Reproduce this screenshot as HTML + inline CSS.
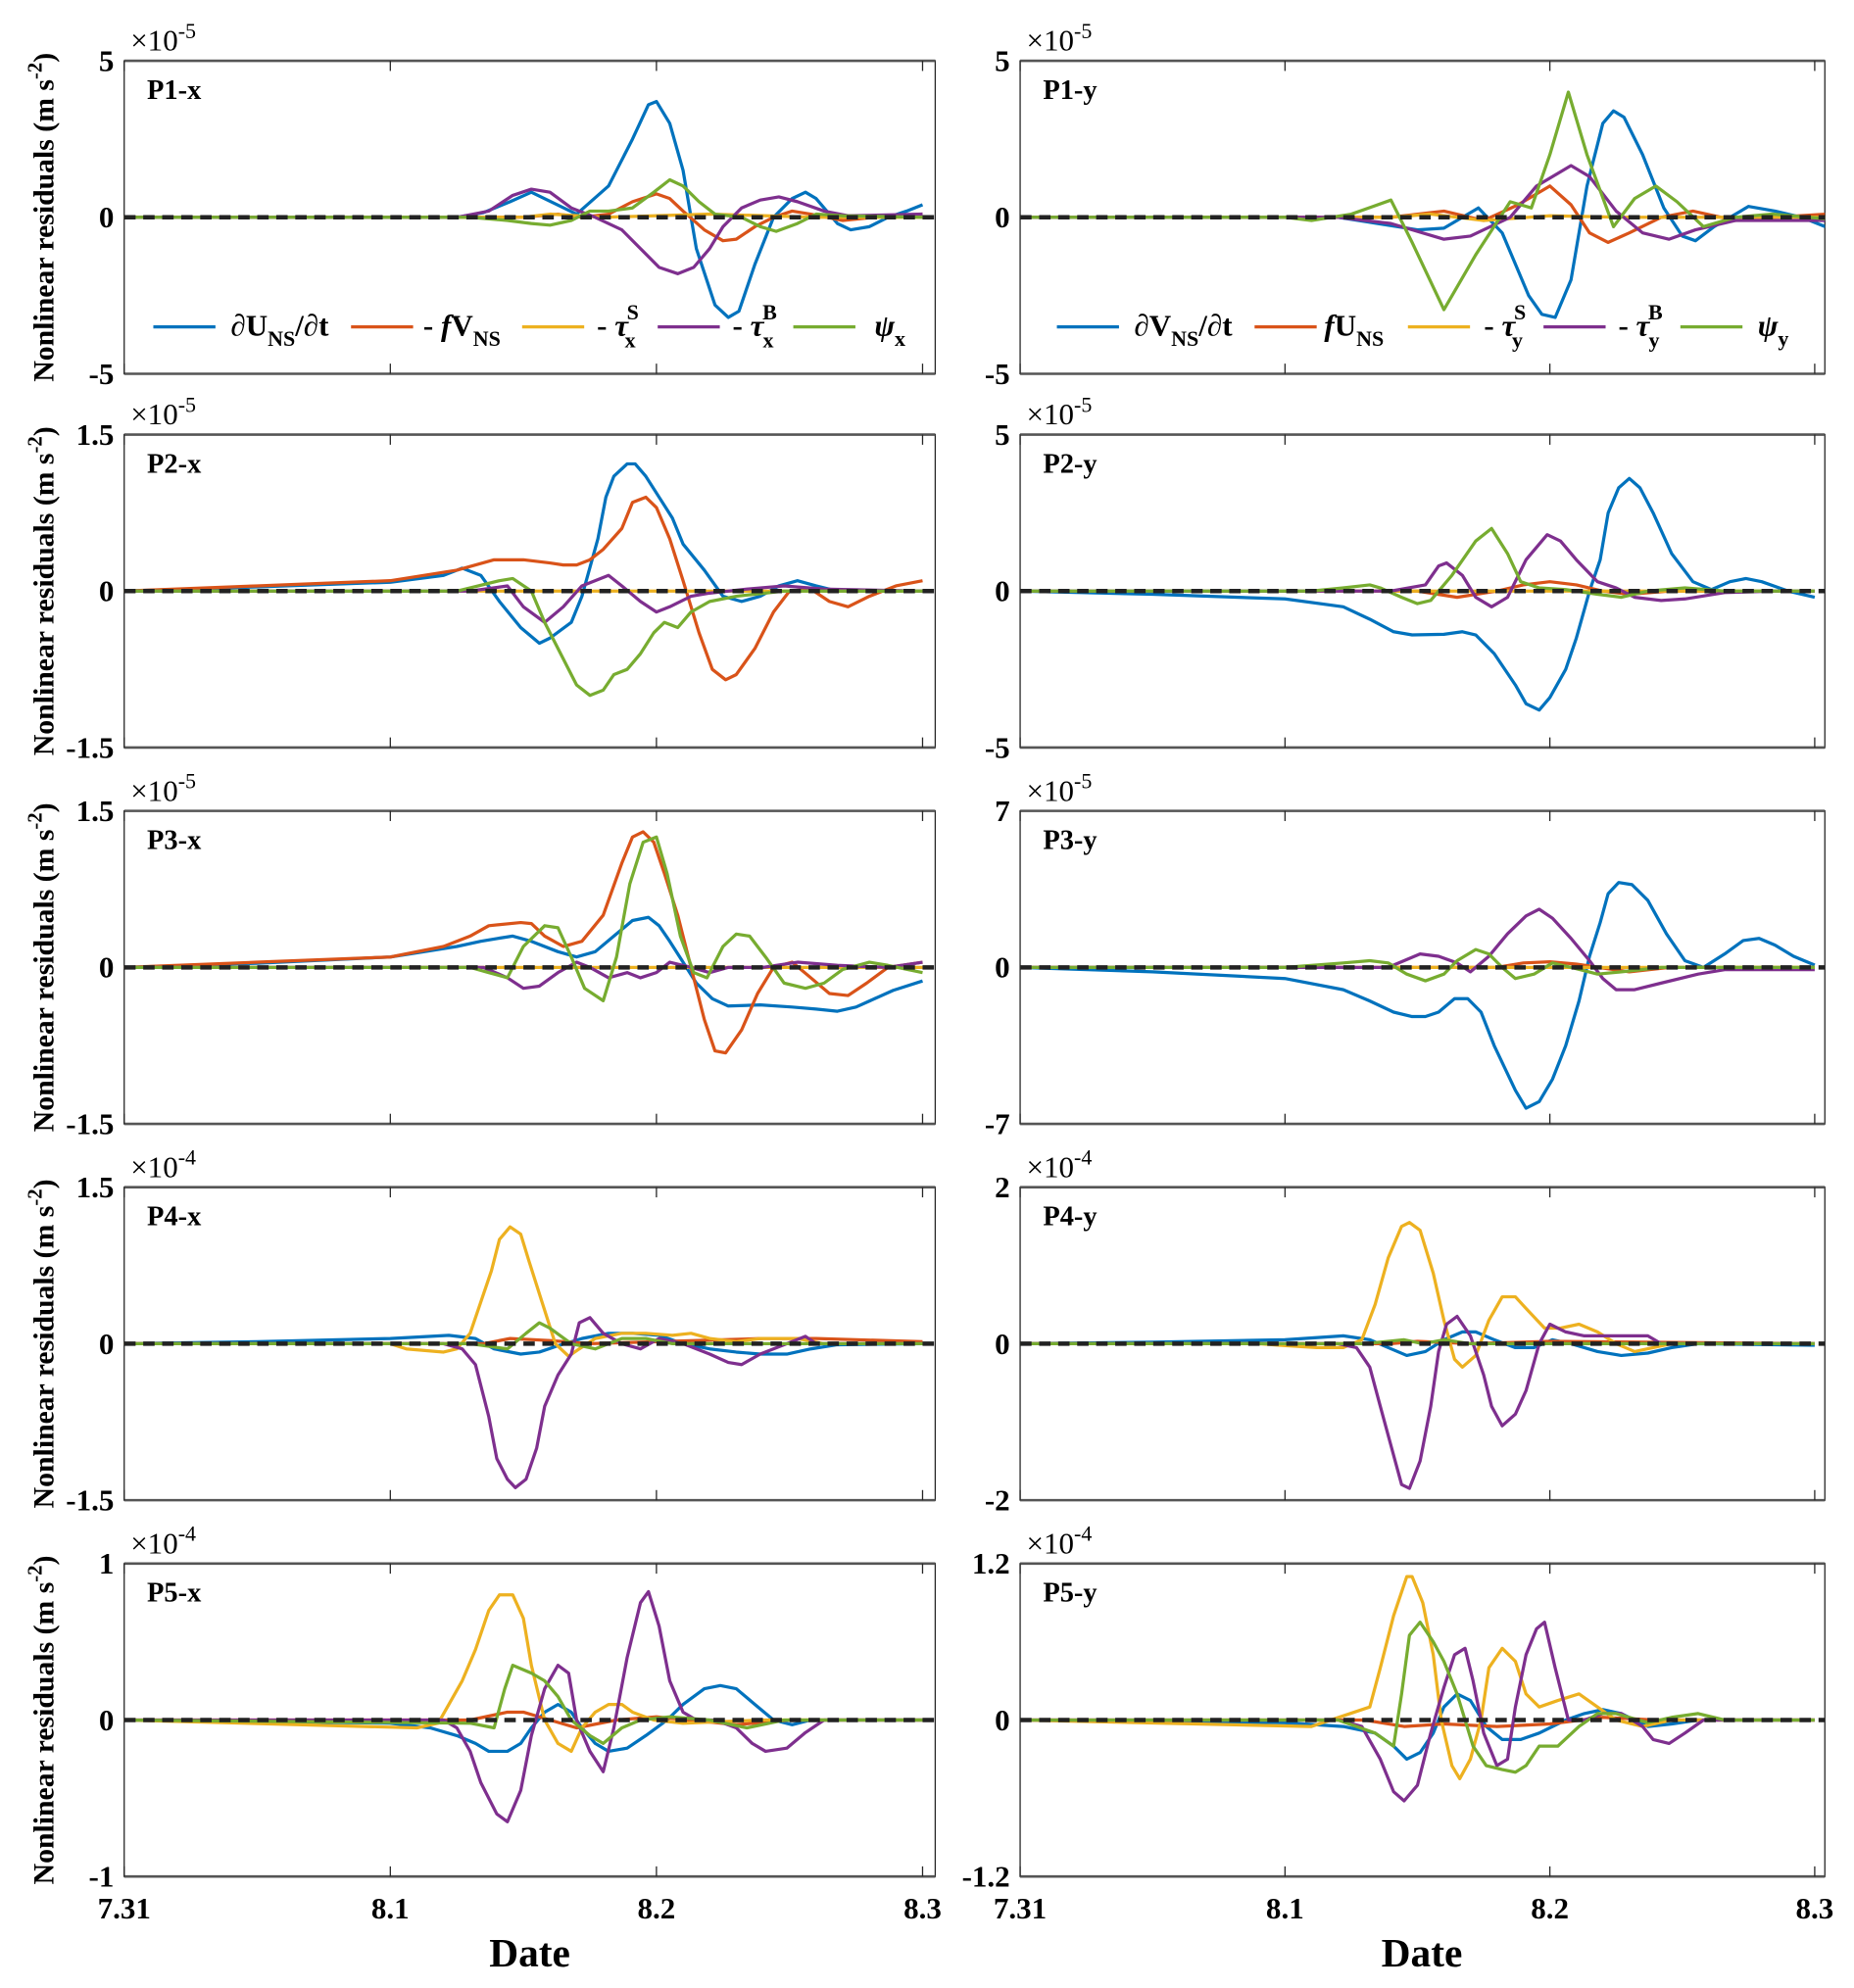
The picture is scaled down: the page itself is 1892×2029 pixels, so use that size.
<!DOCTYPE html>
<html><head><meta charset="utf-8">
<style>
html,body{margin:0;padding:0;background:#fff;}
svg{display:block;font-family:"Liberation Serif",serif;font-weight:bold;}
</style></head>
<body>
<svg id="chart" width="1892" height="2029" viewBox="0 0 1463 1569" preserveAspectRatio="none" xmlns="http://www.w3.org/2000/svg"></svg>
<script>
const xTickLabels = ["7.31","8.1","8.2","8.3"];
const seriesNames = ["blue","orange","yellow","purple","green"];
const seriesColors = ["#0072BD","#D95319","#EDB120","#7E2F8E","#77AC30"];

// P1-x  (x1e-5)
const p1xBlue=[[0,0],[1.25,0],[1.35,0.15],[1.45,0.5],[1.53,0.8],[1.7,0.1],[1.82,1.0],[1.91,2.5],[1.97,3.6],[2.0,3.7],[2.05,3.0],[2.1,1.5],[2.15,-1.0],[2.22,-2.8],[2.27,-3.2],[2.31,-3.0],[2.37,-1.5],[2.44,0],[2.51,0.6],[2.56,0.8],[2.6,0.6],[2.68,-0.2],[2.73,-0.4],[2.8,-0.3],[2.87,0],[2.94,0.2],[3.0,0.4]];
const p1xOrange=[[0,0],[1.5,0],[1.63,0.1],[1.72,0],[1.82,0.1],[1.91,0.5],[2.0,0.75],[2.05,0.6],[2.1,0.2],[2.18,-0.4],[2.25,-0.75],[2.3,-0.7],[2.37,-0.3],[2.44,0],[2.51,0.2],[2.58,0.1],[2.7,-0.1],[2.82,0],[3.0,0.1]];
const p1xYellow=[[0,0],[1.5,0],[1.6,0.1],[1.8,0],[2.2,0.1],[2.6,0],[3.0,0]];
const p1xPurple=[[0,0],[1.25,0],[1.37,0.2],[1.46,0.7],[1.53,0.9],[1.6,0.8],[1.68,0.3],[1.77,0],[1.87,-0.4],[1.94,-1.0],[2.01,-1.6],[2.08,-1.8],[2.14,-1.6],[2.2,-1.0],[2.25,-0.3],[2.32,0.3],[2.39,0.55],[2.46,0.65],[2.53,0.5],[2.63,0.2],[2.72,0.05],[3.0,0.1]];
const p1xGreen=[[0,0],[1.3,0],[1.44,-0.1],[1.53,-0.2],[1.6,-0.25],[1.68,-0.1],[1.75,0.2],[1.82,0.2],[1.91,0.3],[1.99,0.8],[2.05,1.2],[2.1,1.0],[2.16,0.5],[2.22,0.1],[2.32,0],[2.39,-0.3],[2.45,-0.45],[2.53,-0.2],[2.6,0.1],[2.7,0.05],[3.0,0]];
// P1-y
const p1yBlue=[[0,0],[1.2,0],[1.35,-0.2],[1.5,-0.4],[1.6,-0.35],[1.73,0.3],[1.82,-0.5],[1.92,-2.5],[1.97,-3.1],[2.02,-3.2],[2.08,-2.0],[2.14,1.0],[2.2,3.0],[2.24,3.4],[2.28,3.2],[2.35,2.0],[2.43,0.3],[2.5,-0.6],[2.55,-0.75],[2.62,-0.3],[2.75,0.35],[2.85,0.2],[2.95,0],[3.04,-0.3]];
const p1yOrange=[[0,0],[1.4,0],[1.6,0.2],[1.75,-0.1],[1.88,0.4],[2.0,1.0],[2.08,0.4],[2.15,-0.5],[2.22,-0.8],[2.3,-0.5],[2.42,0],[2.54,0.2],[2.7,-0.1],[2.85,0],[3.04,0.1]];
const p1yYellow=[[0,0],[1.4,0],[1.55,0.1],[1.75,-0.1],[2.0,0.05],[2.3,0],[3.04,0]];
const p1yPurple=[[0,0],[1.2,0],[1.4,-0.2],[1.6,-0.7],[1.7,-0.6],[1.85,0],[1.95,1.0],[2.08,1.65],[2.15,1.3],[2.25,0.2],[2.35,-0.5],[2.45,-0.7],[2.55,-0.4],[2.7,-0.1],[3.04,-0.1]];
const p1yGreen=[[0,0],[1.0,0],[1.1,-0.1],[1.25,0.1],[1.4,0.55],[1.48,-0.8],[1.6,-2.95],[1.72,-1.2],[1.85,0.5],[1.93,0.3],[2.0,2.0],[2.07,4.0],[2.14,2.0],[2.24,-0.3],[2.32,0.6],[2.4,1.0],[2.48,0.5],[2.58,-0.3],[2.7,0],[2.84,0.1],[3.04,-0.05]];
// P2-x
const p2xBlue=[[0,0],[0.5,0.04],[1.0,0.085],[1.2,0.15],[1.27,0.22],[1.34,0.15],[1.41,-0.1],[1.49,-0.35],[1.56,-0.5],[1.6,-0.45],[1.68,-0.3],[1.72,-0.05],[1.78,0.5],[1.81,0.9],[1.84,1.1],[1.89,1.22],[1.92,1.22],[1.96,1.1],[2.01,0.9],[2.06,0.7],[2.1,0.45],[2.18,0.2],[2.25,-0.05],[2.32,-0.1],[2.39,-0.05],[2.46,0.05],[2.53,0.1],[2.6,0.05],[2.68,0],[3.0,0]];
const p2xOrange=[[0,0],[0.5,0.05],[1.0,0.1],[1.25,0.2],[1.39,0.3],[1.5,0.3],[1.6,0.27],[1.65,0.25],[1.7,0.25],[1.75,0.3],[1.8,0.4],[1.87,0.6],[1.91,0.85],[1.96,0.9],[2.0,0.8],[2.05,0.5],[2.1,0.1],[2.16,-0.4],[2.21,-0.75],[2.26,-0.85],[2.3,-0.8],[2.37,-0.55],[2.44,-0.2],[2.5,0],[2.58,0.02],[2.65,-0.1],[2.72,-0.15],[2.8,-0.05],[2.9,0.05],[3.0,0.1]];
const p2xYellow=[[0,0],[3.0,0]];
const p2xPurple=[[0,0],[1.3,0],[1.44,0.05],[1.5,-0.15],[1.58,-0.3],[1.65,-0.15],[1.72,0.05],[1.77,0.1],[1.82,0.15],[1.87,0.05],[1.94,-0.1],[2.0,-0.2],[2.05,-0.15],[2.13,-0.05],[2.2,-0.02],[2.34,0.02],[2.48,0.05],[2.63,0.02],[3.0,0]];
const p2xGreen=[[0,0],[1.25,0],[1.41,0.1],[1.46,0.12],[1.53,0],[1.58,-0.3],[1.65,-0.65],[1.7,-0.9],[1.75,-1.0],[1.8,-0.95],[1.84,-0.8],[1.89,-0.75],[1.94,-0.6],[1.99,-0.4],[2.03,-0.3],[2.08,-0.35],[2.13,-0.2],[2.2,-0.1],[2.3,-0.05],[2.48,0],[3.0,0]];
// P2-y
const p2yBlue=[[0,0],[0.5,-0.1],[1.0,-0.25],[1.22,-0.5],[1.32,-0.9],[1.41,-1.3],[1.48,-1.4],[1.6,-1.38],[1.67,-1.3],[1.72,-1.4],[1.79,-2.0],[1.87,-3.0],[1.91,-3.6],[1.96,-3.8],[2.0,-3.4],[2.06,-2.5],[2.1,-1.5],[2.15,0],[2.19,1.0],[2.22,2.5],[2.26,3.3],[2.3,3.6],[2.34,3.3],[2.39,2.5],[2.46,1.2],[2.54,0.3],[2.61,0.05],[2.68,0.3],[2.74,0.4],[2.8,0.3],[2.9,0],[3.0,-0.2]];
const p2yOrange=[[0,0],[1.5,0],[1.65,-0.2],[1.8,0],[1.9,0.2],[2.0,0.3],[2.1,0.2],[2.2,0],[2.3,-0.1],[2.45,0],[3.0,0]];
const p2yYellow=[[0,0],[3.0,0]];
const p2yPurple=[[0,0],[1.4,0],[1.53,0.2],[1.58,0.8],[1.61,0.9],[1.67,0.5],[1.72,-0.2],[1.78,-0.5],[1.84,-0.2],[1.91,1.0],[1.99,1.8],[2.04,1.6],[2.1,1.0],[2.18,0.3],[2.25,0.1],[2.32,-0.2],[2.42,-0.3],[2.51,-0.25],[2.66,-0.05],[2.85,0],[3.0,0]];
const p2yGreen=[[0,0],[1.1,0],[1.22,0.1],[1.32,0.2],[1.36,0.1],[1.44,-0.2],[1.5,-0.4],[1.55,-0.3],[1.63,0.5],[1.72,1.6],[1.78,2.0],[1.84,1.2],[1.89,0.3],[1.96,0.1],[2.06,0.05],[2.18,-0.1],[2.27,-0.2],[2.37,0],[2.51,0.1],[2.66,0],[3.0,0]];
// P3-x
const p3xBlue=[[0,0],[0.5,0.04],[1.0,0.1],[1.25,0.2],[1.34,0.25],[1.41,0.28],[1.46,0.3],[1.53,0.25],[1.63,0.15],[1.7,0.1],[1.77,0.15],[1.84,0.3],[1.91,0.45],[1.97,0.48],[2.01,0.4],[2.05,0.25],[2.1,0.05],[2.15,-0.15],[2.21,-0.3],[2.27,-0.37],[2.39,-0.36],[2.51,-0.38],[2.6,-0.4],[2.68,-0.42],[2.75,-0.38],[2.82,-0.3],[2.89,-0.22],[3.0,-0.13]];
const p3xOrange=[[0,0],[0.5,0.05],[1.0,0.1],[1.2,0.2],[1.3,0.3],[1.37,0.4],[1.49,0.43],[1.53,0.42],[1.58,0.3],[1.65,0.2],[1.72,0.25],[1.8,0.5],[1.87,1.0],[1.91,1.25],[1.95,1.3],[1.99,1.2],[2.03,0.9],[2.08,0.5],[2.13,0],[2.18,-0.5],[2.22,-0.8],[2.26,-0.82],[2.32,-0.6],[2.38,-0.25],[2.44,0],[2.51,0.05],[2.58,-0.1],[2.65,-0.25],[2.72,-0.27],[2.79,-0.15],[2.87,0],[3.0,0.05]];
const p3xYellow=[[0,0],[3.0,0]];
const p3xPurple=[[0,0],[1.35,0],[1.44,-0.1],[1.5,-0.2],[1.56,-0.18],[1.63,-0.05],[1.7,0.05],[1.75,0],[1.82,-0.1],[1.89,-0.05],[1.94,-0.1],[2.0,-0.05],[2.05,0.05],[2.13,0],[2.2,-0.05],[2.27,0],[2.4,0],[2.53,0.05],[2.68,0.02],[2.87,0],[3.0,0.05]];
const p3xGreen=[[0,0],[1.3,0],[1.37,-0.05],[1.44,-0.1],[1.5,0.2],[1.58,0.4],[1.63,0.38],[1.68,0.1],[1.73,-0.2],[1.8,-0.32],[1.85,0.1],[1.9,0.8],[1.95,1.2],[2.0,1.25],[2.04,0.9],[2.09,0.3],[2.14,-0.05],[2.19,-0.1],[2.25,0.2],[2.3,0.32],[2.35,0.3],[2.41,0.1],[2.48,-0.15],[2.56,-0.2],[2.63,-0.15],[2.7,-0.02],[2.8,0.05],[2.87,0.02],[3.0,-0.05]];
// P3-y
const p3yBlue=[[0,0],[0.5,-0.2],[1.0,-0.5],[1.22,-1.0],[1.32,-1.5],[1.41,-2.0],[1.48,-2.2],[1.53,-2.2],[1.58,-2.0],[1.64,-1.4],[1.69,-1.4],[1.74,-2.0],[1.79,-3.5],[1.87,-5.5],[1.91,-6.3],[1.96,-6.0],[2.01,-5.0],[2.06,-3.5],[2.11,-1.5],[2.15,0.5],[2.19,2.0],[2.22,3.3],[2.26,3.8],[2.31,3.7],[2.37,3.0],[2.44,1.5],[2.51,0.3],[2.58,0],[2.66,0.6],[2.73,1.2],[2.79,1.3],[2.85,1.0],[2.92,0.5],[3.0,0.1]];
const p3yOrange=[[0,0],[1.8,0],[1.9,0.2],[2.0,0.25],[2.1,0.15],[2.3,-0.2],[2.45,0],[3.0,0]];
const p3yYellow=[[0,0],[3.0,0]];
const p3yPurple=[[0,0],[1.4,0],[1.41,0.1],[1.51,0.6],[1.58,0.5],[1.65,0.2],[1.7,-0.2],[1.77,0.5],[1.84,1.5],[1.91,2.3],[1.96,2.6],[2.01,2.2],[2.08,1.3],[2.15,0.3],[2.2,-0.5],[2.25,-1.0],[2.32,-1.0],[2.42,-0.7],[2.56,-0.3],[2.66,-0.1],[3.0,-0.1]];
const p3yGreen=[[0,0],[1.0,0],[1.22,0.2],[1.32,0.3],[1.39,0.2],[1.46,-0.3],[1.53,-0.6],[1.6,-0.3],[1.65,0.3],[1.72,0.8],[1.77,0.6],[1.82,0],[1.87,-0.5],[1.94,-0.3],[2.01,0.2],[2.08,0],[2.18,-0.3],[2.27,-0.2],[2.42,0],[3.0,0]];
// P4-x (x1e-4)
const p4xBlue=[[0,0],[0.5,0.02],[1.0,0.05],[1.22,0.08],[1.32,0.05],[1.39,-0.05],[1.49,-0.1],[1.56,-0.08],[1.63,-0.02],[1.72,0.05],[1.82,0.1],[1.91,0.1],[2.01,0.08],[2.1,0],[2.2,-0.05],[2.3,-0.08],[2.39,-0.1],[2.49,-0.1],[2.58,-0.05],[2.68,-0.01],[3.0,0]];
const p4xOrange=[[0,0],[1.35,0],[1.45,0.05],[1.6,0.03],[1.75,0],[2.0,0.02],[2.4,0.05],[2.6,0.05],[3.0,0.02]];
const p4xYellow=[[0,0],[1.0,0],[1.06,-0.05],[1.2,-0.08],[1.25,-0.05],[1.3,0.1],[1.34,0.4],[1.38,0.7],[1.41,1.0],[1.45,1.12],[1.49,1.05],[1.52,0.8],[1.57,0.4],[1.62,0],[1.67,-0.12],[1.71,-0.05],[1.77,0.05],[1.87,0.1],[1.96,0.1],[2.06,0.08],[2.13,0.1],[2.2,0.05],[2.3,0.02],[2.39,0.05],[2.53,0.05],[2.63,0],[3.0,0]];
const p4xPurple=[[0,0],[1.2,0],[1.27,-0.05],[1.32,-0.2],[1.37,-0.7],[1.4,-1.1],[1.44,-1.3],[1.47,-1.38],[1.51,-1.3],[1.55,-1.0],[1.58,-0.6],[1.63,-0.3],[1.68,-0.1],[1.71,0.2],[1.75,0.25],[1.8,0.1],[1.87,0],[1.94,-0.05],[2.01,0.05],[2.1,0],[2.2,-0.1],[2.27,-0.18],[2.32,-0.2],[2.39,-0.1],[2.49,0],[2.56,0.07],[2.6,0],[3.0,0]];
const p4xGreen=[[0,0],[1.3,0],[1.44,-0.05],[1.51,0.1],[1.56,0.2],[1.6,0.15],[1.68,0],[1.77,-0.05],[1.87,0.05],[1.96,0.05],[2.06,0],[3.0,0]];
// P4-y
const p4yBlue=[[0,0],[0.5,0.02],[1.0,0.05],[1.22,0.1],[1.32,0.05],[1.39,-0.05],[1.46,-0.15],[1.53,-0.1],[1.6,0.05],[1.67,0.15],[1.72,0.15],[1.79,0.05],[1.87,-0.05],[1.94,-0.05],[2.01,0.05],[2.08,0],[2.18,-0.1],[2.27,-0.15],[2.37,-0.12],[2.46,-0.05],[2.56,0],[3.0,-0.02]];
const p4yOrange=[[0,0],[1.4,0],[1.5,0.03],[1.7,0],[2.0,0.03],[3.0,0]];
const p4yYellow=[[0,0],[0.9,0],[0.98,-0.02],[1.12,-0.05],[1.22,-0.05],[1.29,0.05],[1.34,0.5],[1.39,1.1],[1.44,1.5],[1.47,1.55],[1.51,1.45],[1.56,0.9],[1.6,0.3],[1.64,-0.2],[1.67,-0.3],[1.72,-0.15],[1.77,0.3],[1.82,0.6],[1.87,0.6],[1.91,0.45],[1.98,0.2],[2.04,0.2],[2.11,0.25],[2.18,0.15],[2.25,0],[2.32,-0.1],[2.39,-0.05],[2.46,0],[3.0,0]];
const p4yPurple=[[0,0],[1.2,0],[1.27,-0.05],[1.32,-0.3],[1.36,-0.8],[1.4,-1.3],[1.44,-1.8],[1.47,-1.85],[1.51,-1.5],[1.55,-0.8],[1.58,-0.1],[1.61,0.25],[1.65,0.35],[1.7,0.1],[1.75,-0.4],[1.78,-0.8],[1.82,-1.05],[1.87,-0.9],[1.91,-0.6],[1.96,0],[2.0,0.25],[2.06,0.15],[2.13,0.1],[2.23,0.1],[2.32,0.1],[2.37,0.1],[2.42,0],[3.0,0]];
const p4yGreen=[[0,0],[1.3,0],[1.45,0.05],[1.52,0],[1.6,0.05],[1.7,0],[3.0,0]];
// P5-x
const p5xBlue=[[0,0],[1.0,-0.02],[1.15,-0.05],[1.25,-0.1],[1.32,-0.15],[1.37,-0.2],[1.44,-0.2],[1.49,-0.15],[1.53,-0.05],[1.58,0.05],[1.63,0.1],[1.68,0.05],[1.72,-0.05],[1.77,-0.15],[1.82,-0.2],[1.89,-0.18],[1.96,-0.1],[2.04,0],[2.1,0.1],[2.18,0.2],[2.24,0.22],[2.3,0.2],[2.37,0.1],[2.44,0],[2.51,-0.03],[2.58,0],[3.0,0]];
const p5xOrange=[[0,0],[1.3,0],[1.44,0.05],[1.5,0.05],[1.6,0],[1.7,-0.05],[1.85,0],[2.0,0.02],[2.3,-0.03],[2.5,0],[3.0,0]];
const p5xYellow=[[0,0],[1.1,-0.05],[1.18,-0.02],[1.22,0.1],[1.27,0.25],[1.32,0.45],[1.37,0.7],[1.41,0.8],[1.46,0.8],[1.5,0.65],[1.53,0.35],[1.58,0],[1.63,-0.15],[1.68,-0.2],[1.72,-0.05],[1.77,0.05],[1.82,0.1],[1.87,0.1],[1.91,0.05],[1.99,0],[2.1,-0.02],[2.4,0],[3.0,0]];
const p5xPurple=[[0,0],[1.2,0],[1.25,-0.05],[1.3,-0.2],[1.34,-0.4],[1.4,-0.6],[1.44,-0.65],[1.49,-0.45],[1.53,-0.1],[1.58,0.2],[1.63,0.35],[1.67,0.3],[1.7,0],[1.75,-0.2],[1.8,-0.33],[1.84,-0.05],[1.89,0.4],[1.94,0.75],[1.97,0.82],[2.01,0.6],[2.05,0.25],[2.1,0.05],[2.15,0],[2.22,0],[2.3,-0.05],[2.36,-0.15],[2.41,-0.2],[2.49,-0.18],[2.56,-0.08],[2.63,0],[3.0,0]];
const p5xGreen=[[0,0],[1.3,-0.02],[1.39,-0.05],[1.43,0.2],[1.46,0.35],[1.53,0.3],[1.58,0.25],[1.63,0.15],[1.68,0],[1.75,-0.1],[1.8,-0.15],[1.87,-0.05],[1.94,0],[2.05,0.02],[2.2,0],[2.34,-0.05],[2.48,0],[3.0,0]];
// P5-y
const p5yBlue=[[0,0],[1.0,-0.02],[1.22,-0.05],[1.34,-0.1],[1.41,-0.2],[1.46,-0.3],[1.51,-0.25],[1.56,-0.1],[1.6,0.1],[1.65,0.2],[1.7,0.15],[1.76,-0.05],[1.82,-0.15],[1.89,-0.15],[1.96,-0.1],[2.06,0],[2.13,0.05],[2.2,0.08],[2.27,0.05],[2.37,-0.05],[2.46,-0.03],[2.56,0],[3.0,0]];
const p5yOrange=[[0,0],[1.3,0],[1.45,-0.05],[1.6,-0.03],[1.8,-0.05],[2.0,-0.03],[2.2,0.02],[2.4,0],[3.0,0]];
const p5yYellow=[[0,0],[1.1,-0.05],[1.32,0.1],[1.36,0.4],[1.41,0.8],[1.46,1.1],[1.48,1.1],[1.52,0.9],[1.56,0.5],[1.59,0],[1.63,-0.35],[1.66,-0.45],[1.7,-0.3],[1.74,0],[1.77,0.4],[1.82,0.55],[1.87,0.45],[1.91,0.2],[1.96,0.1],[2.03,0.15],[2.11,0.2],[2.18,0.1],[2.25,0],[2.35,-0.05],[2.46,0],[3.0,0]];
const p5yPurple=[[0,0],[1.2,0],[1.29,-0.05],[1.36,-0.3],[1.41,-0.55],[1.45,-0.62],[1.5,-0.5],[1.55,-0.1],[1.6,0.25],[1.64,0.5],[1.68,0.55],[1.71,0.3],[1.75,-0.1],[1.8,-0.35],[1.84,-0.3],[1.87,0.1],[1.91,0.5],[1.95,0.7],[1.98,0.75],[2.02,0.4],[2.07,0],[2.13,0],[2.2,0.05],[2.27,0.05],[2.35,-0.05],[2.39,-0.15],[2.45,-0.18],[2.51,-0.1],[2.58,0],[3.0,0]];
const p5yGreen=[[0,0],[1.2,0],[1.34,-0.1],[1.41,-0.2],[1.44,0.2],[1.47,0.65],[1.51,0.75],[1.56,0.6],[1.6,0.45],[1.65,0.2],[1.71,-0.2],[1.76,-0.35],[1.82,-0.38],[1.87,-0.4],[1.91,-0.35],[1.96,-0.2],[2.03,-0.2],[2.11,-0.05],[2.18,0.05],[2.25,0.05],[2.37,-0.02],[2.46,0.02],[2.56,0.05],[2.66,0],[3.0,0]];

const panelLabels=["P1-x","P1-y","P2-x","P2-y","P3-x","P3-y","P4-x","P4-y","P5-x","P5-y"];
const panelYMax=[5,5,1.5,5,1.5,7,1.5,2,1,1.2];
const panelExp=["-5","-5","-5","-5","-5","-5","-4","-4","-4","-4"];
const panelSeries=[
 [p1xBlue,p1xOrange,p1xYellow,p1xPurple,p1xGreen],[p1yBlue,p1yOrange,p1yYellow,p1yPurple,p1yGreen],
 [p2xBlue,p2xOrange,p2xYellow,p2xPurple,p2xGreen],[p2yBlue,p2yOrange,p2yYellow,p2yPurple,p2yGreen],
 [p3xBlue,p3xOrange,p3xYellow,p3xPurple,p3xGreen],[p3yBlue,p3yOrange,p3yYellow,p3yPurple,p3yGreen],
 [p4xBlue,p4xOrange,p4xYellow,p4xPurple,p4xGreen],[p4yBlue,p4yOrange,p4yYellow,p4yPurple,p4yGreen],
 [p5xBlue,p5xOrange,p5xYellow,p5xPurple,p5xGreen],[p5yBlue,p5yOrange,p5yYellow,p5yPurple,p5yGreen]];

const NS="http://www.w3.org/2000/svg";
const svg=document.getElementById("chart");
function mk(tag,attrs,parent){const e=document.createElementNS(NS,tag);for(const k in attrs)e.setAttribute(k,attrs[k]);(parent||svg).appendChild(e);return e;}

const colGeom=[{x0:98,x1:738,day:210},{x0:805,x1:1440,day:209}];
const rowTops=[48,343,640,937,1234];
const H=247;

panelLabels.forEach((lab,i)=>{
  const c=colGeom[i%2], top=rowTops[Math.floor(i/2)], bot=top+H, ym=panelYMax[i];
  const xs=t=>c.x0+t*c.day;
  const ys=v=>top+H/2-v/ym*(H/2);
  const g=mk("g",{});
  
  
  const cp=mk("clipPath",{id:"cp"+i},g);
  mk("rect",{x:c.x0,y:top,width:c.x1-c.x0,height:H},cp);
  const frame=mk("rect",{x:c.x0,y:top,width:c.x1-c.x0,height:H,fill:"#fff",stroke:"#262626","stroke-width":1},g);
  
  
  mk("line",{x1:c.x0,y1:top,x2:c.x1,y2:top,stroke:"#555","stroke-width":2},g);
  mk("line",{x1:c.x0,y1:bot,x2:c.x1,y2:bot,stroke:"#555","stroke-width":2},g);
  xTickLabels.forEach((tl,k)=>{
    mk("line",{x1:xs(k),y1:bot,x2:xs(k),y2:bot-8,stroke:"#262626","stroke-width":1},g);
    mk("line",{x1:xs(k),y1:top,x2:xs(k),y2:top+8,stroke:"#262626","stroke-width":1},g);
    if(i>=8){const t=mk("text",{x:xs(k),y:bot+33,"text-anchor":"middle","font-size":24},g);t.textContent=tl;
      
      }
  });
  const yt=[ym,0,-ym];
  yt.forEach(v=>{const t=mk("text",{x:c.x0-8,y:ys(v)+8,"text-anchor":"end","font-size":24},g);t.textContent=String(v);
    
    });
  const ex=mk("text",{x:c.x0+5,y:top-8,"font-size":24,"font-weight":"normal"},g);
  ex.innerHTML='×10<tspan dy="-10" font-size="17">'+panelExp[i]+'</tspan>';
  
  
  const pl=mk("text",{x:c.x0+18,y:top+30,"font-size":22},g);pl.textContent=lab;
  
  
  const lg=mk("g",{"clip-path":"url(#cp"+i+")"},g);
  panelSeries[i].forEach((pts,s)=>{
    const d=pts.map((p,j)=>(j?"L":"M")+xs(p[0]).toFixed(1)+","+ys(p[1]).toFixed(1)).join("");
    const p=mk("path",{d:d,fill:"none",stroke:seriesColors[s],"stroke-width":2.5,"stroke-linejoin":"round"},lg);
    
    
  });
  const z=mk("line",{x1:c.x0,y1:ys(0),x2:c.x1,y2:ys(0),stroke:"#222","stroke-width":3.5,"stroke-dasharray":"9 6"},g);
  
  
  if(i%2===0){
    const yl=mk("text",{x:0,y:0,"font-size":23,"text-anchor":"middle",transform:"translate(42,"+(top+H/2)+") rotate(-90)"},g);
    yl.innerHTML='Nonlinear residuals (m s<tspan dy="-9" font-size="16">-2</tspan><tspan dy="9">)</tspan>';
    
    
  }
});
// x axis titles
[418,1122].forEach(x=>{const t=mk("text",{x:x,y:1552,"text-anchor":"middle","font-size":32});t.textContent="Date";
  
  });

// legends
const tauS=(sup,sub)=>'- <tspan font-style="italic">τ</tspan><tspan dx="-1" dy="-13" font-size="17">'+sup+'</tspan><tspan dx="-11" dy="22" font-size="17">'+sub+'</tspan>';
const legendLeft=[[121,182,'∂U<tspan dy="8" font-size="17">NS</tspan><tspan dy="-8">/∂t</tspan>'],[277,334,'- <tspan font-style="italic">f</tspan>V<tspan dy="8" font-size="17">NS</tspan>'],[412,471,tauS('S','x')],[519,578,tauS('B','x')],[626,690,'<tspan font-style="italic">ψ</tspan><tspan dy="8" font-size="17">x</tspan>']];
const legendRight=[[834,895,'∂V<tspan dy="8" font-size="17">NS</tspan><tspan dy="-8">/∂t</tspan>'],[990,1045,'<tspan font-style="italic">f</tspan>U<tspan dy="8" font-size="17">NS</tspan>'],[1111,1171,tauS('S','y')],[1218,1277,tauS('B','y')],[1326,1387,'<tspan font-style="italic">ψ</tspan><tspan dy="8" font-size="17">y</tspan>']];
[legendLeft,legendRight].forEach(L=>{
  const lg=mk("g",{});
  
  
  L.forEach((e,s)=>{
    const ln=mk("line",{x1:e[0],y1:258,x2:e[0]+49,y2:258,stroke:seriesColors[s],"stroke-width":2.5},lg);
    
    
    const t=mk("text",{x:e[1],y:265,"font-size":24},lg);t.innerHTML=e[2];
    
    
  });
});
</script>
</body></html>
